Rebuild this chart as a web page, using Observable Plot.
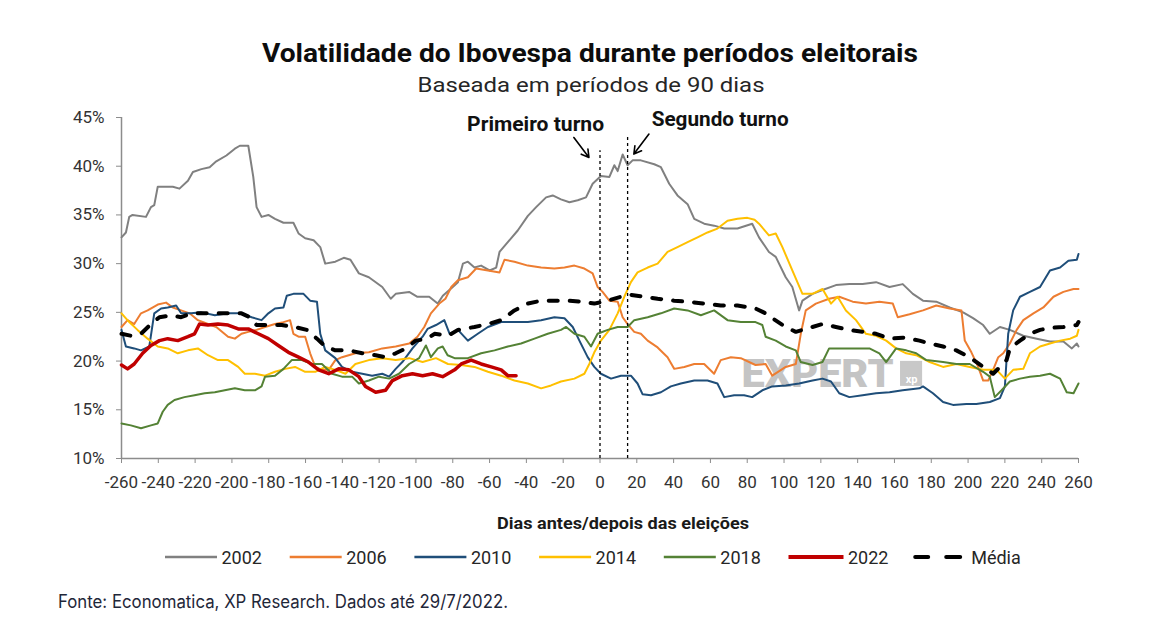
<!DOCTYPE html>
<html>
<head>
<meta charset="utf-8">
<script src="https://cdn.jsdelivr.net/npm/d3@7"></script>
<script src="https://cdn.jsdelivr.net/npm/@observablehq/plot@0.6"></script>
<style>
  html, body { margin: 0; padding: 0; background: #fff; }
  #wrap { position: relative; width: 1172px; height: 630px; overflow: hidden; background: #fff; }
  #chart { position: absolute; left: 0; top: 100px; }
  #overlay { position: absolute; left: 0; top: 0; pointer-events: none; }
</style>
</head>
<body>
<div id="wrap">
  <div id="chart"></div>
  <svg id="overlay" width="1172" height="630"></svg>
</div>
<script>
// ---------- data (day, volatility %) ----------
const s2002 = [[-260,32.7],[-257.6,33.2],[-255.8,34.8],[-254,35],[-246.7,34.8],[-244,35.8],[-242.2,36],[-240.3,37.9],[-232.1,37.9],[-228.5,37.7],[-223.9,38.5],[-221.2,39.4],[-216.6,39.7],[-212.1,39.9],[-208.5,40.5],[-203,41.1],[-198.4,41.8],[-195.7,42.1],[-191.1,42.1],[-188.4,38.9],[-186.6,35.8],[-183.9,34.8],[-180.2,35],[-176.6,34.6],[-172,34.2],[-166.6,34.2],[-163.8,33.1],[-160.2,32.6],[-155.6,32.4],[-152,31.7],[-149.3,30],[-143.8,30.2],[-139.2,30.6],[-135.6,30.4],[-131,29],[-125.6,28.6],[-118.3,27.6],[-113.7,26.4],[-111,26.9],[-103.7,27.1],[-99.2,26.6],[-92.8,26.6],[-88.2,25.9],[-85.4,26.7],[-80,27.6],[-77.2,28.1],[-74.5,30],[-71.8,30.2],[-68.2,29.6],[-64.6,29.8],[-60,29.3],[-56.4,29.6],[-54.6,31.2],[-50.1,32.2],[-44.7,33.4],[-39.2,34.9],[-34.7,35.8],[-29.3,36.8],[-25.7,37],[-21.2,36.6],[-16.6,36.3],[-12.1,36.5],[-7.6,36.8],[-4,38.2],[0.5,39],[5.1,38.9],[7.8,40.1],[9.6,39.5],[12.3,41.2],[15,40.1],[17.7,40.6],[22.2,40.6],[29.5,40.2],[33.1,39.9],[37.6,38.2],[42.1,37],[47.6,36.1],[51.2,34.6],[56.6,34.1],[62,33.9],[67.5,33.6],[74.7,33.6],[82.7,34.1],[86.4,32.7],[91.8,31.2],[95.5,30.7],[100.9,28.6],[104.5,27.6],[108.2,25.2],[110,26.2],[115.5,26.9],[120.9,27.3],[128.2,27.8],[135.5,27.9],[142.7,27.9],[150,28.1],[157.3,27.6],[164.5,27.9],[170,26.9],[175.5,26.2],[182.7,26.1],[190,25.5],[197.3,25],[202.7,24.4],[208.2,23.7],[211.8,22.8],[217.3,23.5],[222.7,23.2],[230,22.6],[237.3,22.3],[244.5,22],[251.8,22],[256.4,21.3],[259.1,21.8],[260,21.5]];

const s2006 = [[-260,23.5],[-256.7,24.2],[-253.1,23.8],[-249.4,24.9],[-245.8,25.2],[-240.3,25.8],[-235.8,26],[-232.1,25.5],[-227.6,25.2],[-223,24.9],[-218.5,24.2],[-213,23.8],[-208.5,23.5],[-202.1,22.5],[-198.4,22.3],[-194.8,22.8],[-191.1,23],[-186.6,23.2],[-182,23.5],[-176.6,23.8],[-172,24],[-168.4,24.2],[-166.6,22.8],[-163.8,22.5],[-160.2,22.5],[-157.5,20.8],[-154.7,19.4],[-151.1,19.1],[-147.4,19.1],[-143.8,20.1],[-140.2,20.4],[-132.9,20.8],[-125.6,20.9],[-118.3,21.3],[-111,21.5],[-103.7,21.8],[-99.2,22.5],[-95.5,23.5],[-91.9,24.9],[-87.3,25.9],[-84,26.4],[-80.8,27.6],[-77.2,28.3],[-71.8,28.6],[-67.3,29.5],[-60.9,29.3],[-54.6,29.1],[-51.9,30.4],[-46.5,30.2],[-39.2,29.8],[-32,29.6],[-24.8,29.5],[-19.3,29.6],[-13.9,29.8],[-8.5,29.5],[-4,29],[-1.3,27.6],[1.4,27.1],[5.1,26.2],[9.6,26.1],[12.3,24.5],[15,23.8],[18.6,23],[22.2,22.8],[25.9,22.1],[31.3,21.4],[36.7,20.4],[40.3,19.2],[45.8,19.4],[51.2,19.7],[56.6,19.7],[62,18.7],[65.6,20.1],[71.1,20.4],[76.5,20.3],[84.5,19.6],[90,19.7],[93.6,18.5],[100.9,19.4],[106.4,19.7],[109.1,22.8],[111.8,25.2],[117.3,25.9],[124.5,26.4],[130,26.6],[137.3,26.1],[144.5,25.9],[151.8,26.1],[159.1,25.9],[161.8,24.5],[168.2,24.8],[175.5,25.2],[182.7,25.7],[190,25.4],[196.4,25.2],[198.2,22.1],[201.8,20.9],[205.5,19.4],[208.2,18],[210.9,18],[213.6,19.1],[216.4,20.4],[219.1,20.8],[222.7,21.8],[226.4,23.2],[230,24.2],[235.5,24.9],[240.9,25.5],[246.4,26.6],[251.8,27.1],[257.3,27.4],[260,27.4]];

const s2010 = [[-260,23.2],[-257.6,21.5],[-253.1,21.3],[-249.4,21.1],[-244.9,21.5],[-242.2,24.9],[-238.5,25.4],[-234.9,25.5],[-230.3,25.7],[-227.6,24.9],[-222.1,24.9],[-216.6,25],[-209.3,24.7],[-202.1,24.9],[-194.8,24.9],[-189.3,24.5],[-183.9,24.2],[-180.2,24.9],[-176.6,25.4],[-172,25.5],[-170.2,26.7],[-166.6,26.9],[-161.1,26.9],[-157.5,26.2],[-153.8,26.1],[-152,22.8],[-149.3,21.1],[-143.8,20.3],[-140.2,19.4],[-134.7,18.9],[-129.2,18.7],[-123.8,18.5],[-118.3,18.7],[-114.6,18.4],[-111,19.2],[-107.4,19.9],[-101.9,21.3],[-96.4,22.5],[-93.7,23.3],[-89.1,23.7],[-84.6,24.2],[-81.7,22.8],[-77.2,23.2],[-71.8,22.1],[-66.4,22.8],[-60.9,23.5],[-53.7,24],[-46.5,24],[-39.2,24],[-32,24.2],[-24.8,24.5],[-19.3,24.4],[-14.8,23.5],[-11.2,22.1],[-6.7,20.4],[-3.1,19.4],[0.5,18.7],[6,18.2],[11.4,18.5],[16.8,18.5],[20.4,17.7],[23.1,16.6],[27.7,16.5],[33.1,16.8],[38.5,17.4],[43.9,17.7],[51.2,18],[58.4,18],[63.8,17.7],[67.5,16.3],[72.9,16.5],[78.3,16.5],[82.7,16.3],[88.2,17],[93.6,17.4],[100.9,17.5],[108.2,17.7],[115.5,18],[120.9,18.2],[125.5,17.9],[130,16.7],[135.5,16.3],[142.7,16.5],[150,16.7],[157.3,16.8],[164.5,17],[173.6,17.2],[175.5,17.4],[180.9,16.7],[186.4,15.8],[191.8,15.5],[199.1,15.6],[204.5,15.6],[211.8,15.8],[217.3,16.2],[220,17.4],[221.8,22.8],[224.5,25.2],[228.2,26.6],[233.6,27.1],[239.1,27.6],[244.5,29.3],[250,29.6],[254.5,30.3],[259.1,30.4],[260,31]];

const s2014 = [[-260,24.9],[-255.8,24],[-251.3,23.2],[-245.8,22.3],[-240.3,21.5],[-234.9,21.3],[-229.4,20.8],[-223.9,21.1],[-218.5,21.3],[-213,20.6],[-207.6,20.1],[-202.1,20.1],[-196.6,19.4],[-193,18.7],[-187.5,18.7],[-182,18.5],[-176.6,18.9],[-171.1,19.2],[-165.7,19.4],[-160.2,18.9],[-154.7,18.9],[-149.3,19.4],[-143.8,19.1],[-138.3,18.7],[-132.9,19.7],[-125.6,20.1],[-118.3,20.3],[-111,20.1],[-103.7,20.3],[-96.4,19.9],[-89.1,20.3],[-82.6,19.7],[-75.4,19.6],[-68.2,19.4],[-60.9,18.9],[-53.7,18.5],[-46.5,18],[-39.2,17.7],[-32,17.2],[-26.6,17.5],[-21.2,17.9],[-13.9,18.2],[-8.5,18.7],[-5.8,19.7],[-3.1,20.9],[0.5,22.1],[5.1,23.2],[9.6,24.9],[13.2,26.6],[16.8,28.1],[20.4,29.1],[25.9,29.6],[31.3,30],[36.7,31.2],[42.1,31.7],[47.6,32.2],[53,32.7],[58.4,33.2],[63.8,33.6],[69.3,34.4],[74.7,34.6],[80.1,34.7],[84,34.5],[86.4,34.1],[91.8,32.9],[95.5,33.1],[99.1,31.7],[104.5,29.3],[110,26.9],[115.5,26.9],[120.9,27.4],[125.5,25.9],[129.1,26.6],[133.6,25.2],[139.1,24.2],[144.5,22.8],[150,22.6],[155.5,22.1],[160.9,21.3],[166.4,20.8],[171.8,20.6],[179.1,19.9],[186.4,19.4],[193.6,19.7],[200.9,19.4],[208.2,19.1],[215.5,19.1],[220,18.2],[224.5,19.1],[230,19.2],[233.6,20.8],[239.1,21.5],[244.5,21.8],[250,22.1],[255.5,22.3],[259.1,22.6],[260,23.2]];

const s2018 = [[-260,13.6],[-254.9,13.4],[-249.4,13.1],[-244,13.4],[-240.3,13.6],[-237.6,14.8],[-234.9,15.5],[-231.2,16],[-225.8,16.3],[-220.3,16.5],[-214.8,16.7],[-209.3,16.8],[-203.9,17],[-198.4,17.2],[-193,17],[-187.5,17],[-183.9,17.4],[-182,18.4],[-176.6,18.5],[-172,19.2],[-167.5,20.1],[-162,20.1],[-156.5,19.7],[-151.1,19.7],[-145.6,18.7],[-140.2,18.4],[-134.7,18.4],[-131,17.7],[-125.6,18],[-120.1,18.4],[-114.6,18.2],[-109.2,18.7],[-103.7,19.7],[-98.3,20.3],[-94.6,21.6],[-91.9,20.4],[-88.1,21.3],[-85.5,21.5],[-82.8,20.6],[-79,20.3],[-71.8,20.3],[-64.6,20.8],[-57.3,21.1],[-50.1,21.5],[-42.9,21.8],[-35.6,22.3],[-28.4,22.8],[-21.2,23.2],[-18.4,23.5],[-13.9,22.8],[-8.5,22.5],[-4.9,21.5],[-1.3,22.8],[4.2,23.2],[9.6,23.5],[15,23.5],[18.6,24.2],[25.9,24.5],[33.1,24.9],[40.3,25.4],[47.6,25.2],[54.8,24.7],[62,25.2],[69.3,24.2],[76.5,24],[84.5,24],[88.2,23.7],[90,22.5],[95.5,22.1],[100.9,21.5],[106.4,21.1],[109.1,19.9],[115.5,19.6],[120.9,19.9],[124.5,21.3],[131.8,21.3],[139.1,21.3],[146.4,21.3],[151.8,20.8],[155.5,19.9],[160.9,21.3],[166.4,21.1],[171.8,20.8],[177.3,20.1],[186.4,19.9],[193.6,19.7],[200.9,19.7],[208.2,18.9],[211.8,18.4],[214.5,16.3],[218.2,17],[222.7,17.9],[228.2,18.2],[233.6,18.4],[239.1,18.5],[244.5,18.7],[250,18.2],[253.6,16.8],[257.3,16.7],[260,17.7]];

const s2022 = [[-260,19.6],[-256.7,19.2],[-253.1,19.7],[-248.5,20.8],[-244,21.6],[-239.4,22.1],[-234.9,22.3],[-229.4,22.1],[-223.9,22.5],[-220.3,22.8],[-217.6,23.8],[-213,23.7],[-207.6,23.8],[-202.1,23.7],[-196.6,23.3],[-191.1,23.3],[-185.7,22.8],[-180.2,22.3],[-174.8,21.6],[-169.3,20.9],[-163.8,20.4],[-158.4,19.9],[-152.9,19.1],[-147.4,18.7],[-142,19.2],[-136.5,19.1],[-131,18.4],[-127.4,17.4],[-121.9,16.8],[-116.5,17],[-112.8,18],[-107.4,18.5],[-101.9,18.7],[-96.4,18.5],[-91,18.7],[-85.5,18.4],[-79,19.1],[-75.4,19.7],[-70,20.1],[-64.6,19.7],[-59.1,19.4],[-53.7,19.1],[-50.1,18.5],[-45.6,18.5]];

const sMedia = [[-260,22.8],[-254.9,22.6],[-249.4,22.8],[-244,23.8],[-239.4,24.5],[-233,24.7],[-227.6,24.5],[-222.1,24.9],[-216.6,24.9],[-209.3,24.9],[-202.1,24.9],[-194.8,24.9],[-190.2,24.5],[-186.6,23.7],[-180.2,23.7],[-172.9,23.7],[-165.7,23.5],[-159.3,23.2],[-153.8,22.3],[-149.3,21.5],[-143.8,21.1],[-136.5,21.1],[-129.2,20.8],[-121.9,20.6],[-116.5,20.4],[-111,20.8],[-105.5,21.3],[-100.1,22.1],[-93.7,22.3],[-89.9,22.8],[-82.6,22.6],[-77.2,23.2],[-68.2,23.5],[-60.9,23.8],[-53.7,24.2],[-46.5,25.2],[-39.2,25.9],[-32,26.2],[-24.8,26.2],[-17.5,26.2],[-10.3,26.1],[-3.1,25.9],[4.2,26.2],[11.4,26.6],[16.8,26.8],[24.1,26.6],[31.3,26.4],[40.3,26.2],[47.6,26.1],[56.6,25.9],[65.6,25.7],[74.7,25.7],[84.5,25.4],[90,24.9],[93.6,24.4],[100.9,23.5],[106.4,23],[113.6,23.4],[120.9,23.8],[128.2,23.5],[135.5,23.2],[142.7,23],[150,22.8],[157.3,22.3],[164.5,22.4],[173.6,22.1],[179.1,21.8],[186.4,21.5],[193.6,21.1],[200.9,20.4],[208.2,19.4],[213.6,18.7],[217.3,19.4],[220.9,20.1],[222.7,21.3],[228.2,22.1],[233.6,22.8],[239.1,23.2],[244.5,23.4],[251.8,23.5],[259.1,23.7],[260,24]];

const xTicks = [-260,-240,-220,-200,-180,-160,-140,-120,-100,-80,-60,-40,-20,0,20,40,60,80,100,120,140,160,180,200,220,240,260];
const yTicks = [10,15,20,25,30,35,40,45];

const legendNames = ["2002","2006","2010","2014","2018","2022","Média"];
const seriesColors = ["#808080","#ed7d31","#1f4e79","#ffc000","#548235","#c00000","#000000"];

// election rounds (day, top of dotted line in %)
const rounds = [{day: 0, top: 41.6}, {day: 15, top: 43.1}];
const labels = [{day: -35, v: 44.28, text: "Primeiro turno"}, {day: 65.3, v: 44.78, text: "Segundo turno"}];
const arrows = [
  {x1: -14.2, y1: 42.95, x2: -6.0, y2: 40.9},
  {x1: 26.6, y1: 43.3, x2: 18.4, y2: 41.25}
];

const title = "Volatilidade do Ibovespa durante períodos eleitorais";
const subtitle = "Baseada em períodos de 90 dias";
const xLabel = "Dias antes/depois das eleições";
const source = "Fonte: Economatica, XP Research. Dados até 29/7/2022.";

// ---------- plot ----------
const X = d => d[0], Y = d => d[1];
const lineMark = (data, color, w, extra = {}) =>
  Plot.line(data, {x: X, y: Y, stroke: color, strokeWidth: w, strokeLinejoin: "round", ...extra});

const chart = Plot.plot({
  width: 1172,
  height: 420,
  marginLeft: 121,
  marginRight: 94,
  marginTop: 17,
  marginBottom: 62,
  x: {domain: [-260, 260]},
  y: {domain: [10, 45]},
  style: {fontFamily: "Roboto, sans-serif", fontSize: "17px", color: "#404040", background: "transparent", overflow: "visible"},
  marks: [
    // watermark
    Plot.text(["EXPERT"], {x: 118.2, y: 18.6, text: d => d, fill: "#c4c4c4", fontSize: 38, fontWeight: 900, textAnchor: "middle", className: "wm"}),
    Plot.rect([0], {x1: 163.3, x2: 175.3, y1: 17.4, y2: 19.97, fill: "#c8c8c8"}),
    Plot.text(["xp"], {x: 169.3, y: 18.1, text: d => d, fill: "#fff", fontSize: 11, fontWeight: 700}),
    // axes
    Plot.axisX({ticks: xTicks, tickFormat: d => String(d), tickSize: 5, tickPadding: 12, stroke: "#8c8c8c", fill: "#333", label: null}),
    Plot.axisY({ticks: yTicks, tickFormat: d => d + "%", tickSize: 5, tickPadding: 12, stroke: "#8c8c8c", fill: "#333", label: null}),
    Plot.ruleY([10], {stroke: "#8c8c8c", strokeWidth: 1.5}),
    Plot.ruleX([-260], {y1: 10, y2: 45, stroke: "#8c8c8c", strokeWidth: 1.5}),
    // series
    lineMark(s2002, seriesColors[0], 2),
    lineMark(s2006, seriesColors[1], 2),
    lineMark(s2010, seriesColors[2], 2),
    lineMark(s2014, seriesColors[3], 2),
    lineMark(s2018, seriesColors[4], 2),
    lineMark(s2022, seriesColors[5], 3.5),
    lineMark(sMedia, seriesColors[6], 4, {strokeDasharray: "9,12", strokeLinecap: "round"}),
    // election markers
    Plot.ruleX(rounds, {x: "day", y1: 10, y2: "top", stroke: "#000", strokeWidth: 1.3, strokeDasharray: "3,3"}),
    Plot.arrow(arrows, {x1: "x1", y1: "y1", x2: "x2", y2: "y2", stroke: "#000", strokeWidth: 1.6, headLength: 9}),
    Plot.text(labels, {x: "day", y: "v", text: "text", fontSize: 19.5, fontWeight: 700, fill: "#111", textAnchor: "middle", className: "annot"})
  ]
});
document.getElementById("chart").appendChild(chart);
d3.select(chart).selectAll(".annot text").attr("textLength", 137).attr("lengthAdjust", "spacingAndGlyphs");
d3.select(chart).selectAll(".wm text").attr("textLength", 152).attr("lengthAdjust", "spacingAndGlyphs");

// ---------- overlay: titles, x label, legend, source ----------
const ov = d3.select("#overlay");
ov.append("text").attr("x", 590).attr("y", 62).attr("text-anchor", "middle")
  .attr("font-family", "Roboto, sans-serif").attr("font-weight", 700).attr("font-size", 26)
  .attr("fill", "#0d0d0d").attr("textLength", 656).attr("lengthAdjust", "spacingAndGlyphs").text(title);
ov.append("text").attr("x", 591).attr("y", 91.5).attr("text-anchor", "middle")
  .attr("font-family", "Roboto, sans-serif").attr("font-weight", 400).attr("font-size", 20)
  .attr("fill", "#262626").attr("textLength", 347).attr("lengthAdjust", "spacingAndGlyphs").text(subtitle);
ov.append("text").attr("x", 623).attr("y", 528.5).attr("text-anchor", "middle")
  .attr("font-family", "Roboto, sans-serif").attr("font-weight", 700).attr("font-size", 16.5)
  .attr("fill", "#1a1a1a").attr("textLength", 252).attr("lengthAdjust", "spacingAndGlyphs").text(xLabel);

const legendY = 557;
legendNames.forEach((name, i) => {
  const x0 = 165 + i * 124.7;
  const g = ov.append("g");
  if (name === "Média") {
    g.append("line").attr("x1", x0 + 2).attr("x2", x0 + 15).attr("y1", legendY).attr("y2", legendY)
      .attr("stroke", "#000").attr("stroke-width", 4).attr("stroke-linecap", "round");
    g.append("line").attr("x1", x0 + 33).attr("x2", x0 + 47).attr("y1", legendY).attr("y2", legendY)
      .attr("stroke", "#000").attr("stroke-width", 4).attr("stroke-linecap", "round");
    g.append("text").attr("x", x0 + 58).attr("y", legendY + 6.5)
      .attr("font-family", "Roboto, sans-serif").attr("font-size", 18).attr("fill", "#262626").text(name);
  } else {
    const w = name === "2022" ? 55 : 52;
    g.append("line").attr("x1", x0).attr("x2", x0 + w).attr("y1", legendY).attr("y2", legendY)
      .attr("stroke", seriesColors[i]).attr("stroke-width", name === "2022" ? 4 : 2.5);
    g.append("text").attr("x", x0 + w + 4.5).attr("y", legendY + 6.5)
      .attr("font-family", "Roboto, sans-serif").attr("font-size", 18).attr("fill", "#262626").text(name);
  }
});

ov.append("text").attr("x", 58).attr("y", 608).attr("font-family", "Inter, Lato, sans-serif")
  .attr("font-size", 18).attr("fill", "#1f2739").attr("textLength", 450)
  .attr("lengthAdjust", "spacingAndGlyphs").text(source);
</script>
</body>
</html>
